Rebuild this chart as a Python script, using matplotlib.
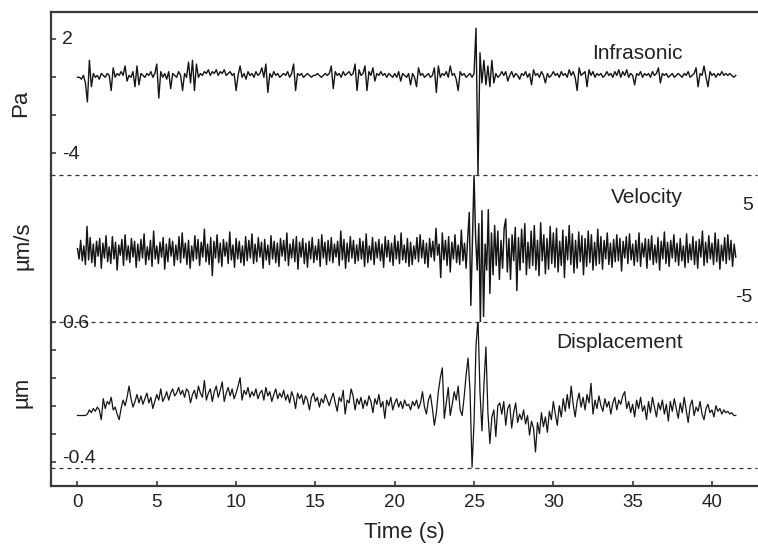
"""Stacked infrasonic / velocity / displacement traces around the event at ~25 s."""
import numpy as np
import matplotlib
matplotlib.use("Agg")
import matplotlib.pyplot as plt

plt.rcParams["font.family"] = ["Liberation Sans", "DejaVu Sans"]

# sample spacing (s) of the hand-read traces
DT_INFRA = 0.125
DT_VEL = 0.1
DT_DISP = 0.125

# infrasonic pressure, tenths of Pa
infra = [
    0, 0, -1, 1, -3, -13, 9, -5,
    2, 0, 1, -1, 2, 1, 0, 2,
    1, -7, 5, 0, 2, 1, 3, 1,
    6, -2, 1, 0, 3, -5, 6, -4,
    2, 1, 0, 2, 1, 3, 0, 2,
    7, -11, 3, 0, 2, -1, 3, -6,
    2, 1, 0, 3, 1, -7, 2, 0,
    8, -3, 9, -7, 7, 0, 2, 1,
    3, 2, 4, 1, 3, 2, 4, 1,
    3, 2, 4, 1, 2, 3, 1, 2,
    -7, 1, 6, 0, 2, -1, 3, 1,
    2, 0, 3, 1, 2, 5, 0, 7,
    -8, 2, 0, 3, 1, 2, 0, 1,
    2, 1, 3, 0, 2, 7, -7, 2,
    1, 2, 0, 1, 2, 1, 0, 1,
    1, 2, 1, 0, 1, 2, 1, 2,
    6, -6, 3, 1, 2, 0, 3, 1,
    2, 3, 1, 2, 7, -7, 4, 1,
    2, 6, -7, 3, 1, 5, -2, 2,
    1, 3, 1, 2, 0, 2, 1, 0,
    2, 0, 3, -2, 2, 1, 0, 2,
    -4, 2, 0, -5, 5, 1, 2, 0,
    1, 2, 0, 1, 5, -8, 6, 0,
    2, 1, 3, 0, 6, 1, 2, -1,
    -7, 3, 1, 2, 0, 1, 2, 0,
    2, 26, -52, 13, -3, 9, -4, 6,
    -5, 9, -3, 2, 0, 1, 3, 1,
    3, -2, 1, 3, 0, 2, 1, -1,
    2, 1, 3, 0, 2, -4, 4, 1,
    2, 0, 3, 1, -3, 2, 0, 1,
    3, 1, 2, 0, 3, 1, 2, 0,
    4, 1, 3, 0, -7, 5, 1, 2,
    3, -5, 4, 1, 3, 0, 2, 1,
    2, 0, 1, 3, 1, 2, 0, 3,
    1, 4, 0, 3, 1, 4, 0, 2,
    1, -4, 2, 1, 3, 0, 2, 1,
    2, 0, 3, 1, 2, 5, -3, 2,
    1, 2, 0, 1, 2, 0, 1, 2,
    1, 0, 2, 1, 3, 0, 1, 2,
    5, -5, 2, 1, 6, 0, -5, 3,
    1, 2, 0, 2, 1, 3, 1, 2,
    1, 2, 1, 0, 1,
]

# ground velocity, tenths of um/s
vel = [
    3, -8, 12, -10, 6, -14, 27, -9, 15, -12,
    8, -16, 11, -5, 14, -18, 9, -7, 17, -11,
    5, -13, 16, -8, 10, -20, 7, -4, 13, -15,
    18, -9, 6, -12, 14, -6, 11, -17, 8, -10,
    13, -7, 19, -14, 5, -9, 12, -16, 22, -8,
    6, -13, 10, -6, 15, -19, 8, -11, 14, -5,
    11, -15, 7, -9, 16, -12, 20, -7, 9, -14,
    12, -18, 6, -10, 17, -8, 13, -15, 10, -6,
    24, -11, 8, -14, 15, -26, 11, -7, 18, -12,
    9, -16, 13, -5, 10, -13, 21, -9, 7, -17,
    14, -8, 11, -12, 6, -15, 16, -10, 12, -7,
    19, -13, 8, -11, 15, -6, 10, -18, 13, -9,
    7, -14, 17, -8, 11, -12, 9, -16, 14, -5,
    12, -10, 20, -15, 8, -7, 13, -11, 16, -19,
    10, -6, 14, -13, 9, -17, 11, -8, 15, -12,
    6, -9, 13, -16, 18, -7, 10, -14, 12, -10,
    15, -12, 8, -6, 11, -15, 22, -9, 13, -18,
    9, -11, 16, -7, 12, -13, 7, -10, 14, -8,
    11, -16, 19, -12, 6, -9, 15, -14, 10, -7,
    13, -10, 8, -17, 16, -6, 12, -11, 9, -15,
    17, -8, 11, -13, 20, -9, 7, -12, 14, -16,
    10, -14, 6, -8, 15, -11, 18, -7, 12, -13,
    9, -17, 14, -6, 11, -10, 25, -4, 8, -28,
    20, -9, 12, -15, 16, -22, 10, -8, 18, -12,
    7, -14, 23, -10, 9, -18, 14, 42, -58, 10,
    82, 15, -20, 30, -77, 44, -70, 8, -20, 45,
    -45, 20, -25, 28, -15, 22, -30, 12, -18, 25,
    35, -22, 14, -30, 18, -10, 26, -42, 15, -20,
    24, -12, 30, -25, 10, -18, 22, -15, 28, -20,
    12, -26, 31, -10, 18, -24, 14, -19, 27, -13,
    20, -17, 25, -22, 11, -15, 23, -28, 16, -9,
    28, -14, 19, -23, 12, -18, 21, -11, 17, -25,
    14, -16, 22, -12, 18, -20, 10, -15, 24, -13,
    16, -19, 12, -8, 20, -14, 9, -17, 13, -11,
    18, -10, 14, -21, 11, -7, 16, -13, 19, -9,
    8, -15, 12, -11, 20, -16, 9, -6, 14, -18,
    13, -9, 17, -14, 7, -12, 15, -20, 11, -8,
    21, -13, 10, -16, 12, -7, 18, -11, 9, -15,
    14, -10, 6, -17, 19, -12, 8, -9, 16, -14,
    11, -18, 13, -6, 22, -15, 10, -12, 17, -8,
    9, -14, 20, -11, 13, -19, 7, -10, 15, -13,
    18, -9, 12, -16, 8, -6,
]

# ground displacement, hundredths of um
disp = [
    -7, -7, -7, -7, -7, -6, -3, -5,
    -2, -4, -1, -3, -10, 5, -2, 3,
    1, 6, -3, -1, -6, -10, -2, 4,
    0, 6, 14, 5, -1, 3, 8, 2,
    7, 1, 5, 9, 2, 6, -2, 3,
    8, 4, 12, 3, 6, 10, 4, 9,
    12, 7, 9, 13, 8, 11, 6, 12,
    10, 2, 8, 11, 5, 14, 9, 6,
    18, 4, 9, 12, 3, 10, 14, 6,
    11, 17, 3, 9, 13, 7, 12, 5,
    9, 14, 20, 4, 11, 8, 13, 6,
    10, 7, 12, 5, 9, 11, 4, 13,
    7, 10, 3, 8, 12, 5, 9, 6,
    11, 4, 8, 2, 10, 6, -2, 9,
    5, 8, 1, 7, 4, -3, 6, 9,
    3, 6, -1, 5, 2, 8, 4, 0,
    5, 9, 2, -4, 6, 3, 11, -6,
    4, 2, 12, 7, -3, 5, 1, 6,
    -2, 4, 0, 7, 3, -5, 5, 1,
    8, -1, 3, -9, 4, 0, 6, -3,
    2, 5, -1, 3, -2, 4, 0, 1,
    -3, 3, 0, 4, -2, 2, 10, -1,
    -6, 4, 8, -2, -14, -5, 10, 20,
    27, -9, 2, 13, -7, 1, 10, 4,
    14, -3, -7, 6, 22, 34, 10, -44,
    -12, 43, 62, 10, -18, 15, 42, -5,
    -27, -8, -3, -22, 0, 2, -6, 3,
    -14, -2, 1, -16, -5, 2, -12, -6,
    -10, -3, -13, -7, -21, -11, -16, -33,
    -12, -20, -5, -15, -8, -19, -4, -10,
    3, -6, -14, 0, -8, 5, -4, 8,
    -2, 14, 1, -8, 3, 9, -1, 6,
    -3, 8, 2, 16, -6, 4, -2, 7,
    0, -4, 5, -1, 3, -6, 2, 6,
    -3, 4, 1, 7, 10, -2, 3, -5,
    1, -8, 4, -2, 6, -4, 0, -10,
    3, -5, 6, -1, -8, 2, -3, 4,
    -6, 1, -11, 3, -4, 5, -2, -9,
    2, -5, 6, -3, -12, 0, 4, -7,
    -1, -4, 3, -6, -10, -2, 1, -5,
    -3, -8, 0, -4, -2, -6, -3, -5,
    -4, -6, -5, -7, -7,
]

names = ["Infrasonic", "Velocity", "Displacement"]
units = ["Pa", "\u00b5m/s", "\u00b5m"]
xticks = [0, 5, 10, 15, 20, 25, 30, 35, 40]

W, H = 758, 546
fig = plt.figure(figsize=(W / 100, H / 100), dpi=100)

# panel edges in pixels (top, bottom)
left_px, right_px = 51, 757
edges = [(12, 175), (175, 321.7), (321.7, 486)]
axes = []
for top, bot in edges:
    ax = fig.add_axes([left_px / W, (H - bot) / H, (right_px - left_px) / W, (bot - top) / H])
    ax.patch.set_visible(False)
    axes.append(ax)

ink = "#151515"
frame = "#3a3a3a"
xlim = (-1.67, 42.84)

series = [
    (np.arange(len(infra)) * DT_INFRA, np.array(infra) / 10.0, (-5.17, 3.455)),
    (np.arange(len(vel)) * DT_VEL, np.array(vel) / 10.0, (-7.55, 8.23)),
    (np.arange(len(disp)) * DT_DISP, np.array(disp) / 100.0, (-0.5736, 0.6)),
]

for ax, (t, y, ylim), lw in zip(axes, series, [1.0, 1.05, 0.9]):
    ax.plot(t, y, color=ink, lw=lw)
    ax.set_xlim(*xlim)
    ax.set_ylim(*ylim)
    for s in ax.spines.values():
        s.set_visible(False)
    ax.spines["left"].set_visible(True)
    ax.spines["left"].set_color(frame)
    ax.spines["left"].set_linewidth(1.6)
    ax.tick_params(axis="both", direction="in", length=3.5, width=1.2, color=frame)
    ax.set_xticks([])
    ax.set_yticks([])

ax0, ax1, ax2 = axes
ax0.spines["top"].set_visible(True)
ax0.spines["top"].set_color(frame)
ax0.spines["top"].set_linewidth(1.6)
ax2.spines["bottom"].set_visible(True)
ax2.spines["bottom"].set_color(frame)
ax2.spines["bottom"].set_linewidth(1.6)

# y ticks
ax0.set_yticks([2, 0, -2, -4])
ax0.set_yticklabels([])
ax2.set_yticks([0.6, 0.4, 0.2, 0.0, -0.2, -0.4])
ax2.set_yticklabels([])

# x ticks on bottom panel
ax2.set_xticks(xticks)
ax2.set_xticklabels([str(v) for v in xticks], fontsize=13.5, color="#222222")
ax2.tick_params(axis="x", pad=6)
ax2.set_xlabel("Time (s)", fontsize=16, color="#222222", labelpad=8)

# dashed separators
dash = dict(color="#333333", lw=0.9, ls=(0, (3.2, 3.2)), clip_on=False, zorder=5)
ax0.axhline(-5.17, **dash)
ax1.axhline(-7.55, **dash)
ax2.axhline(-0.447, **dash)

# inner scale labels
lx = (62 - left_px) / (right_px - left_px)
rx = (753 - left_px) / (right_px - left_px)
tk = dict(fontsize=14, color="#222222", va="center")
ax0.text(lx, 2, "2", transform=ax0.get_yaxis_transform(), ha="left", **tk)
ax0.text(lx, -4.1, "-4", transform=ax0.get_yaxis_transform(), ha="left", **tk)
ax1.text(rx, 5, "5", transform=ax1.get_yaxis_transform(), ha="right", **tk)
ax1.text(rx, -5, "-5", transform=ax1.get_yaxis_transform(), ha="right", **tk)
ax2.text(lx, 0.59, "0.6", transform=ax2.get_yaxis_transform(), ha="left", **tk)
ax2.text(lx, -0.38, "-0.4", transform=ax2.get_yaxis_transform(), ha="left", **tk)

# trace names
for name, base in zip(names, [59, 203, 348]):
    fig.text(683 / W, (H - base) / H, name, ha="right", va="baseline",
             fontsize=15, color="#222222")

# unit labels
for unit, (ux, uy) in zip(units, [(21, 103), (23, 246), (22, 392)]):
    fig.text(ux / W, (H - uy) / H, unit, rotation=90, ha="center", va="center",
             fontsize=16, color="#222222")

fig.savefig("out.png", dpi=100)
